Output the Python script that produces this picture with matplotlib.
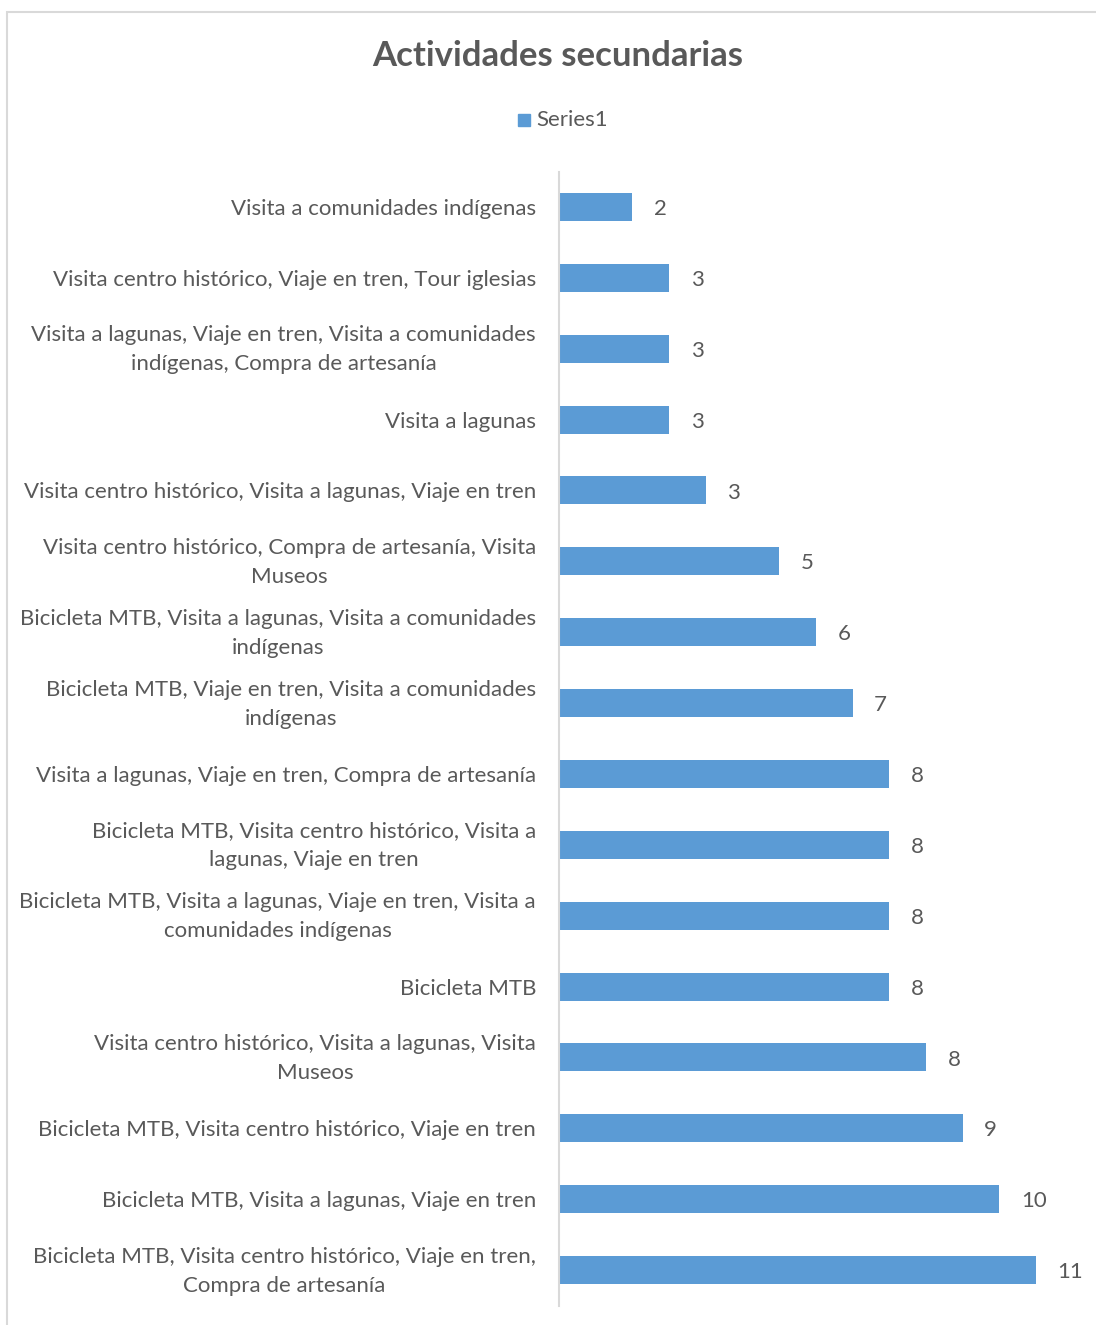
import matplotlib
matplotlib.use("Agg")
import matplotlib.pyplot as plt
from matplotlib.patches import Rectangle
from matplotlib.transforms import ScaledTranslation

# categories from top to bottom, as shown
categorias = [
    "Visita a comunidades indígenas",
    "Visita centro histórico, Viaje en tren, Tour iglesias",
    "Visita a lagunas, Viaje en tren, Visita a comunidades\nindígenas, Compra de artesanía",
    "Visita a lagunas",
    "Visita centro histórico, Visita a lagunas, Viaje en tren",
    "Visita centro histórico, Compra de artesanía, Visita\nMuseos",
    "Bicicleta MTB, Visita a lagunas, Visita a comunidades\nindígenas",
    "Bicicleta MTB, Viaje en tren, Visita a comunidades\nindígenas",
    "Visita a lagunas, Viaje en tren, Compra de artesanía",
    "Bicicleta MTB, Visita centro histórico, Visita a\nlagunas, Viaje en tren",
    "Bicicleta MTB, Visita a lagunas, Viaje en tren, Visita a\ncomunidades indígenas",
    "Bicicleta MTB",
    "Visita centro histórico, Visita a lagunas, Visita\nMuseos",
    "Bicicleta MTB, Visita centro histórico, Viaje en tren",
    "Bicicleta MTB, Visita a lagunas, Viaje en tren",
    "Bicicleta MTB, Visita centro histórico, Viaje en tren,\nCompra de artesanía",
]
# bar lengths as drawn
valores = [2, 3, 3, 3, 4, 6, 7, 8, 9, 9, 9, 9, 10, 11, 12, 13]
# data labels as printed next to the bars
etiquetas = ["2", "3", "3", "3", "3", "5", "6", "7", "8", "8", "8", "8", "8", "9", "10", "11"]

azul = "#5B9BD5"
gris = "#595959"
plt.rcParams["font.family"] = ["Lato", "DejaVu Sans"]

fig = plt.figure(figsize=(10.96, 13.25), dpi=100)
W, H = 1096, 1325

# chart border
fig.patches.append(Rectangle((7 / W, -0.01), 1.2, (H - 12) / H + 0.01, transform=fig.transFigure,
                             fill=False, edgecolor="#D9D9D9", linewidth=1.5))

ax = fig.add_axes([559 / W, 1 - 1305.5 / H, (1084 - 559) / W, (1305.5 - 171.5) / H])
y = list(range(len(categorias)))
ax.barh(y, valores, height=0.395, color=azul)
ax.set_xlim(0, (1084 - 559) / 36.7)
ax.set_ylim(len(categorias) - 0.5, -0.5)
ax.set_yticks(y)
ax.set_yticklabels(categorias, fontsize=16, color=gris, linespacing=1.57,
                   multialignment="center")
ax.tick_params(axis="y", length=0, pad=16.5)
# two-line labels sit a little higher in the original
for lab in ax.get_yticklabels():
    if "\n" in lab.get_text():
        lab.set_transform(lab.get_transform() + ScaledTranslation(0, 0.055, fig.dpi_scale_trans))
ax.set_xticks([])
for s in ["top", "right", "bottom"]:
    ax.spines[s].set_visible(False)
ax.spines["left"].set_color("#D9D9D9")
ax.spines["left"].set_linewidth(1.5)

for yi, v, t in zip(y, valores, etiquetas):
    ax.annotate(t, (v, yi), xytext=(15.5, -1.5), textcoords="offset points",
                va="center", ha="left", fontsize=16, color=gris)

fig.text(558 / W, 1 - 56 / H, "Actividades secundarias", ha="center", va="center",
         fontsize=25, fontweight="bold", color=gris)
fig.patches.append(Rectangle((518 / W, 1 - 126 / H), 12 / W, 12 / H,
                             transform=fig.transFigure, color=azul))
fig.text(536 / W, 1 - 120 / H, "Series1", ha="left", va="center", fontsize=16, color=gris)

fig.savefig("out.png", dpi=100)
